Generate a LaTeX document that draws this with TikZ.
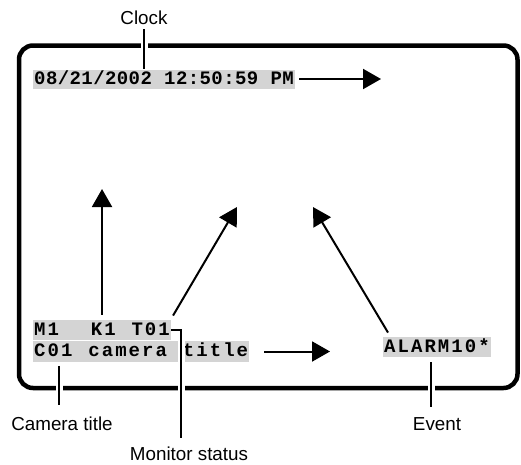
\documentclass[tikz,border=0pt]{standalone}
\usepackage{fontspec}
\usetikzlibrary{arrows.meta}
\newfontfamily\labelfont{Liberation Sans}
\newfontfamily\osdfont[LetterSpace=2.2, WordSpace={1.037,0,0}]{Liberation Mono Bold}
\newfontfamily\osdwidefont[LetterSpace=10.8, WordSpace={1.18,0,0}]{Liberation Mono Bold}
\definecolor{osdgray}{RGB}{212,212,212}

\begin{document}
\begin{tikzpicture}[
    x=1pt,
    y=-1pt,
    screen/.style={
        line width=4.5pt,
        rounded corners=14pt
    },
    osd/.style={
        fill=osdgray,
        anchor=west,
        inner xsep=1pt,
        inner ysep=1.5pt,
        text height=14pt,
        text depth=3.5pt,
        font=\osdwidefont\fontsize{19}{19}\selectfont
    },
    osdclock/.style={
        inner ysep=1pt,
        text depth=3pt,
        font=\osdfont\fontsize{19}{19}\selectfont
    },
    callout/.style={
        anchor=base,
        inner sep=2pt,
        font=\labelfont\fontsize{18.8}{20}\selectfont
    },
    leader/.style={
        line width=1.6pt,
        preaction={draw=white, line width=7pt}
    },
    pointer/.style={
        line width=2pt,
        -{Triangle[length=18pt,width=20pt]}
    }
]
\useasboundingbox (0,0) rectangle (521,464);

% Screen
\draw[screen] (19,45.5) rectangle (517.5,388);

% Nodes
\node[osd, osdclock] (clock) at (33,79) {08/21/2002 12:50:59 PM};
\node[osd] (status) at (33,330) {M1\ \ K1 T01};
\node[osd] (title) at (33,351.5) {C01 camera title};
\node[osd] (event) at (383,347) {ALARM10*};

\node[callout] (clocklbl) at (144,24) {Clock};
\node[callout] (camlbl) at (62,430) {Camera title};
\node[callout] (monlbl) at (189,460) {Monitor status};
\node[callout] (evtlbl) at (437,430) {Event};

\coordinate (clocktip) at (381,79);
\coordinate (statustip) at (101.5,189);
\coordinate (midtip) at (237,207);
\coordinate (titletip) at (330,351.5);
\coordinate (eventtip) at (313,207);

% Arrows
\draw[pointer] ([xshift=4pt]clock.east) -- (clocktip);
\draw[pointer] ([yshift=5pt]status.north) -- (status.north |- statustip);
\draw[pointer] ([xshift=2pt,yshift=4pt]status.north east) -- (midtip);
\draw[pointer] ([xshift=15pt]title.east) -- (titletip);
\draw[pointer] ([xshift=5pt,yshift=4pt]event.north west) -- (eventtip);

% Leaders
\draw[leader, shorten <=3pt] (clocklbl.south) -- (clocklbl.south |- clock.north);
\draw[leader, shorten <=4pt, shorten >=9pt] ([xshift=-3pt]camlbl.north |- title.south) -- ([xshift=-3pt]camlbl.north);
\draw[leader, shorten >=6pt] (status.east) -| ([xshift=-8pt]monlbl.north);
\draw[leader, shorten <=5pt, shorten >=8pt] ([xshift=-6pt]evtlbl.north |- event.south) -- ([xshift=-6pt]evtlbl.north);

\end{tikzpicture}
\end{document}
